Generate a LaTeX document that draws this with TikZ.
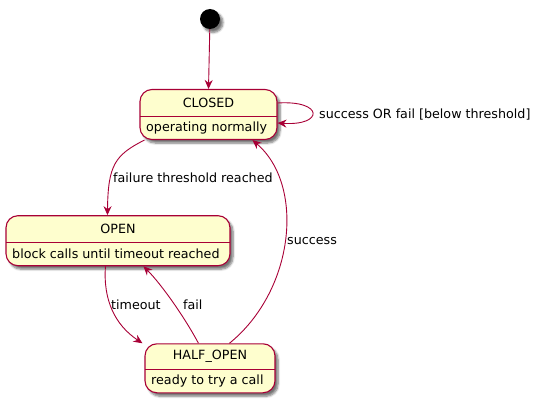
\documentclass[tikz,border=0pt]{standalone}
\usepackage{fontspec}
\setmainfont{DejaVu Sans}
\usetikzlibrary{arrows.meta,shadows.blur,calc}
\definecolor{pumlred}{HTML}{A80036}
\definecolor{pumlfill}{HTML}{FEFECE}
\tikzset{
  statebox/.style={draw=pumlred, line width=1.1pt, fill=pumlfill, rounded corners=12pt,
    inner sep=0pt, blur shadow={shadow xshift=3pt, shadow yshift=-3.5pt, shadow blur steps=6, shadow opacity=55}},
  divline/.style={draw=pumlred, line width=1pt},
  txt/.style={font=\fontsize{12.7}{15}\selectfont, inner sep=0pt},
  edge/.style={draw=pumlred, line width=0.9pt, -{Stealth[length=9pt,width=8pt,inset=3pt]}},
}
\begin{document}
\begin{tikzpicture}[x=1pt,y=-1pt]
\useasboundingbox (0,0) rectangle (538,404);
% initial
\node[circle, fill=black, minimum size=20pt, inner sep=0pt,
  blur shadow={shadow xshift=3pt, shadow yshift=-3.5pt, shadow blur steps=6, shadow opacity=55}] (init) at (210,19) {};
% CLOSED
\node[statebox, minimum width=137pt, minimum height=50pt] (closed) at (208.5,114.5) {};
\draw[divline] (140,116) -- (277,116);
\node[txt] (closedname) at (208.5,103) {CLOSED};
\node[txt, anchor=west] (closeddo) at (146,127.5) {operating normally};
% OPEN
\node[statebox, minimum width=224pt, minimum height=50pt] (open) at (118,240.7) {};
\draw[divline] (6,242) -- (230,242);
\node[txt] (openname) at (118,229) {OPEN};
\node[txt, anchor=west] (opendo) at (12,253.5) {block calls until timeout reached};
% HALF_OPEN
\node[statebox, minimum width=130pt, minimum height=49pt] (half) at (210,368.3) {};
\draw[divline] (145,369) -- (275,369);
\node[txt] (halfname) at (210,356) {HALF\_OPEN};
\node[txt, anchor=west] (halfdo) at (151,380.5) {ready to try a call};
% edges
\draw[edge] (init) -- (closed.north);
\draw[edge] ($(closed.east)+(0,-11.5)$) .. controls (324,100) and (324,126) .. ($(closed.east)+(0,8.5)$);
\node[txt, anchor=west] (lself) at (319,115) {success OR fail [below threshold]};
\draw[edge] ($(closed.south west)+(5,0)$) .. controls (115,155) and (108,165) .. ($(open.north west)+(102,0)$);
\node[txt, anchor=west] (lfail1) at (113,178) {failure threshold reached};
\draw[edge] ($(open.south west)+(100,0)$) .. controls (103,300) and (115,325) .. ($(half.north west)+(-2,0)$);
\node[txt, anchor=west] (ltimeout) at (111,304.5) {timeout};
\draw[edge] ($(half.north west)+(54,0)$) .. controls (185,318) and (162,285) .. ($(open.south west)+(138,0)$);
\node[txt, anchor=west] (lfail2) at (183,304.5) {fail};
\draw[edge] ($(half.north west)+(85,0)$) .. controls (295,290) and (305,185) .. ($(closed.south west)+(113,0)$);
\node[txt, anchor=west] (lsuccess) at (287,241.5) {success};
\end{tikzpicture}
\end{document}
